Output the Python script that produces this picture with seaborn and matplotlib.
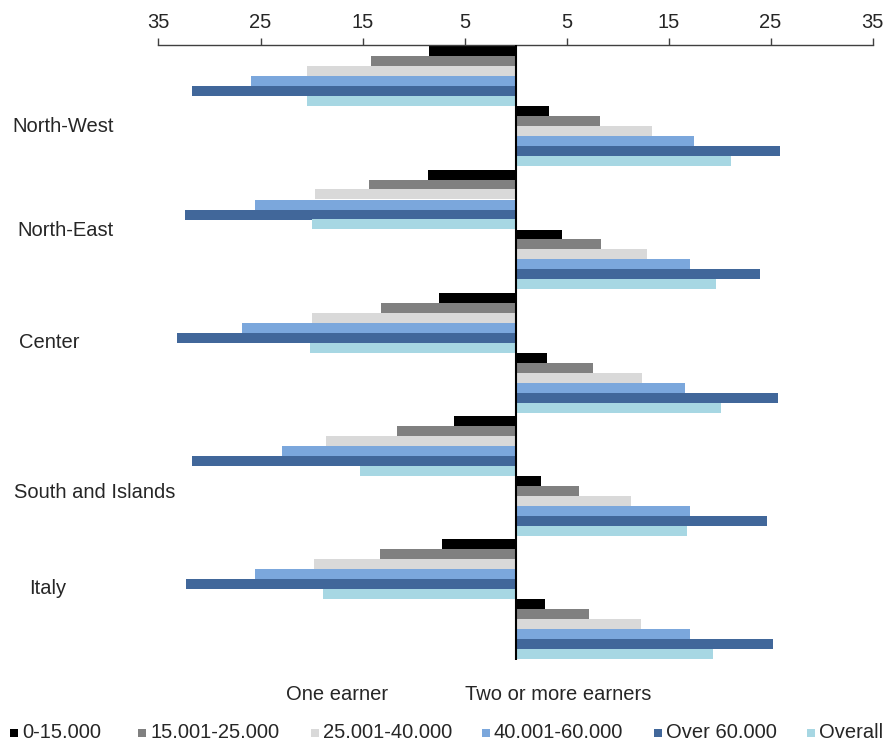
import numpy as np
import pandas as pd
import matplotlib
matplotlib.use("Agg")
import matplotlib.pyplot as plt
from matplotlib.patches import Rectangle
import seaborn as sns

# ---------------- data ----------------
regions = ["North-West", "North-East", "Center", "South and Islands", "Italy"]
series = ["0-15.000", "15.001-25.000", "25.001-40.000", "40.001-60.000", "Over 60.000", "Overall"]
groups = ["One earner", "Two or more earners"]

# one earner (shown to the left), per region
one_earner = {
    "North-West":        [8.45, 14.2, 20.4, 25.9, 31.7, 20.4],
    "North-East":        [8.6, 14.4, 19.7, 25.5, 32.4, 20.0],
    "Center":            [7.5, 13.2, 20.0, 26.8, 33.2, 20.1],
    "South and Islands": [6.0, 11.6, 18.6, 22.9, 31.7, 15.2],
    "Italy":             [7.2, 13.3, 19.8, 25.5, 32.3, 18.9],
}
# two or more earners (shown to the right), per region
two_earners = {
    "North-West":        [3.3, 8.3, 13.35, 17.5, 25.9, 21.1],
    "North-East":        [4.6, 8.4, 12.9, 17.1, 24.0, 19.7],
    "Center":            [3.1, 7.6, 12.4, 16.6, 25.7, 20.1],
    "South and Islands": [2.5, 6.2, 11.3, 17.1, 24.7, 16.8],
    "Italy":             [2.9, 7.2, 12.3, 17.1, 25.2, 19.4],
}
tick_values = [-35, -25, -15, -5, 5, 15, 25, 35]

colors = ["#000000", "#808080", "#D9D9D9", "#7BA7DC", "#41679A", "#A7D7E3"]

# ---------------- build table ----------------
gap = 0.055
rows = []
for r, reg in enumerate(regions):
    for g, grp in enumerate(groups):
        vals = one_earner[reg] if g == 0 else two_earners[reg]
        sign = -1 if g == 0 else 1
        pos = r * (2 + gap) + g + 0.5
        for s, v in zip(series, vals):
            rows.append({"region": reg, "group": grp, "series": s,
                         "value": sign * v, "pos": pos})
df = pd.DataFrame(rows)

# ---------------- figure ----------------
sns.set_theme(style="white")
plt.rcParams["font.family"] = ["Liberation Sans", "DejaVu Sans"]

W, H = 885, 749
fig = plt.figure(figsize=(W / 100, H / 100), dpi=100)
ax = fig.add_axes([158.5 / W, 1 - 660 / H, (872.5 - 158.5) / W, (660 - 45) / H])

sns.barplot(data=df, x="value", y="pos", hue="series", hue_order=series,
            palette=colors, orient="y", native_scale=True, width=1.0,
            dodge=True, saturation=1, legend=False, linewidth=0, ax=ax,
            errorbar=None)

ymax = 5 * 2 + 4 * gap
ax.set_ylim(ymax + 0.01, -0.02)
ax.set_xlim(-35, 35)
ax.axvline(0, color="black", lw=1.5, zorder=5)

ax.xaxis.tick_top()
ax.set_xticks(tick_values)
ax.set_xticklabels([str(abs(t)) for t in tick_values], fontsize=14.5)
ax.tick_params(axis="x", direction="out", length=5, width=1, color="#404040", pad=4)
ax.set_yticks([])
ax.set_xlabel("")
ax.set_ylabel("")
for side in ["left", "right", "bottom"]:
    ax.spines[side].set_visible(False)
ax.spines["top"].set_color("#404040")
ax.spines["top"].set_linewidth(1)

# region labels
label_pos = {"North-West": (12, 127), "North-East": (17, 231), "Center": (19, 343),
             "South and Islands": (14, 493), "Italy": (29, 589)}
for reg in regions:
    x, y = label_pos[reg]
    fig.text(x / W, 1 - y / H, reg, fontsize=14.5, ha="left", va="center")

fig.text(337 / W, 1 - 695 / H, "One earner", fontsize=14.5, ha="center", va="center")
fig.text(558 / W, 1 - 695 / H, "Two or more earners", fontsize=14.5, ha="center", va="center")

# legend (manual placement of entries)
legend_text_x = [22, 150, 323, 494, 666, 819]
ly = 733
for lab, c, tx in zip(series, colors, legend_text_x):
    fig.patches.append(Rectangle(((tx - 12) / W, 1 - (ly + 4) / H), 8 / W, 8 / H,
                                 transform=fig.transFigure, facecolor=c,
                                 edgecolor="none", figure=fig))
    fig.text(tx / W, 1 - ly / H, lab, fontsize=14.5, ha="left", va="center")

fig.savefig("out.png", dpi=100)
